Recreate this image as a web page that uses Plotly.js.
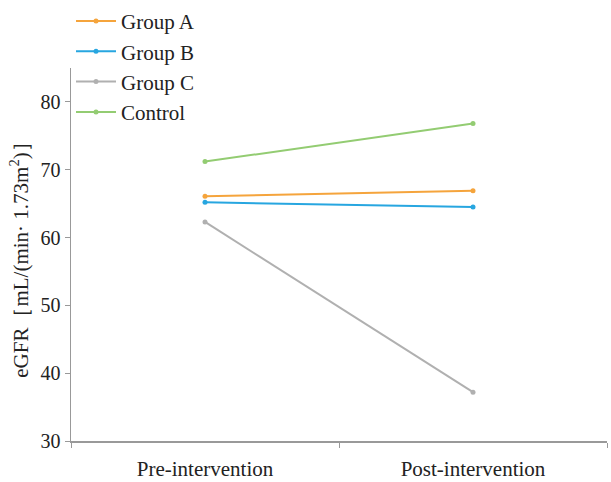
<!DOCTYPE html>
<html><head><meta charset="utf-8">
<script src="https://cdn.plot.ly/plotly-3.0.1.min.js"></script>
<style>body{margin:0;background:#fff}#c{width:611px;height:482px}</style>
</head><body><div id="c"></div>
<script>
const categories = ["Pre-intervention", "Post-intervention"];
const groupA = [66.1, 66.9];
const groupB = [65.2, 64.5];
const groupC = [62.3, 37.2];
const control = [71.2, 76.8];
const seriesNames = ["Group A", "Group B", "Group C", "Control"];
const yTicks = [30, 40, 50, 60, 70, 80];

const colors = ["#F5A43C", "#27A6E0", "#B0B0B0", "#93CC72"];
const data = [groupA, groupB, groupC, control].map((v, i) => ({
  x: categories, y: v, name: seriesNames[i], type: "scatter", mode: "lines+markers",
  line: {color: colors[i], width: 2}, marker: {color: colors[i], size: 5},
  legendgroup: "g" + i
}));

const fam = "Liberation Serif";
const font = {family: fam, size: 21, color: "#222"};
Plotly.newPlot("c", data, {
  width: 611, height: 482,
  margin: {l: 71, r: 4, t: 68, b: 41, autoexpand: false},
  paper_bgcolor: "#fff", plot_bgcolor: "#fff",
  font: font,
  showlegend: true,
  legend: {x: 0.0, y: 1.18, xanchor: "left", yanchor: "top", bgcolor: "rgba(0,0,0,0)",
    tracegroupgap: 0, traceorder: "grouped", font: font, itemwidth: 40},
  xaxis: {type: "category", range: [-0.5, 1.5], tickson: "boundaries", ticks: "outside",
    ticklen: 5, tickcolor: "#999", showline: true, linecolor: "#999", linewidth: 1.5,
    showgrid: false, zeroline: false, tickfont: {family: fam, size: 21, color: "#222"},
    ticklabelstandoff: 8, fixedrange: true},
  yaxis: {range: [30, 85], tickvals: yTicks, ticks: "outside", ticklen: 5, tickcolor: "#999",
    showline: true, linecolor: "#999", linewidth: 1.5, showgrid: false, zeroline: false,
    tickfont: {family: fam, size: 20, color: "#222"},
    title: {text: "eGFR［mL/(min· 1.73m<sup>2</sup>)］", font: {family: fam, size: 21, color: "#222"}, standoff: 6}}
}, {staticPlot: true});
</script></body></html>
